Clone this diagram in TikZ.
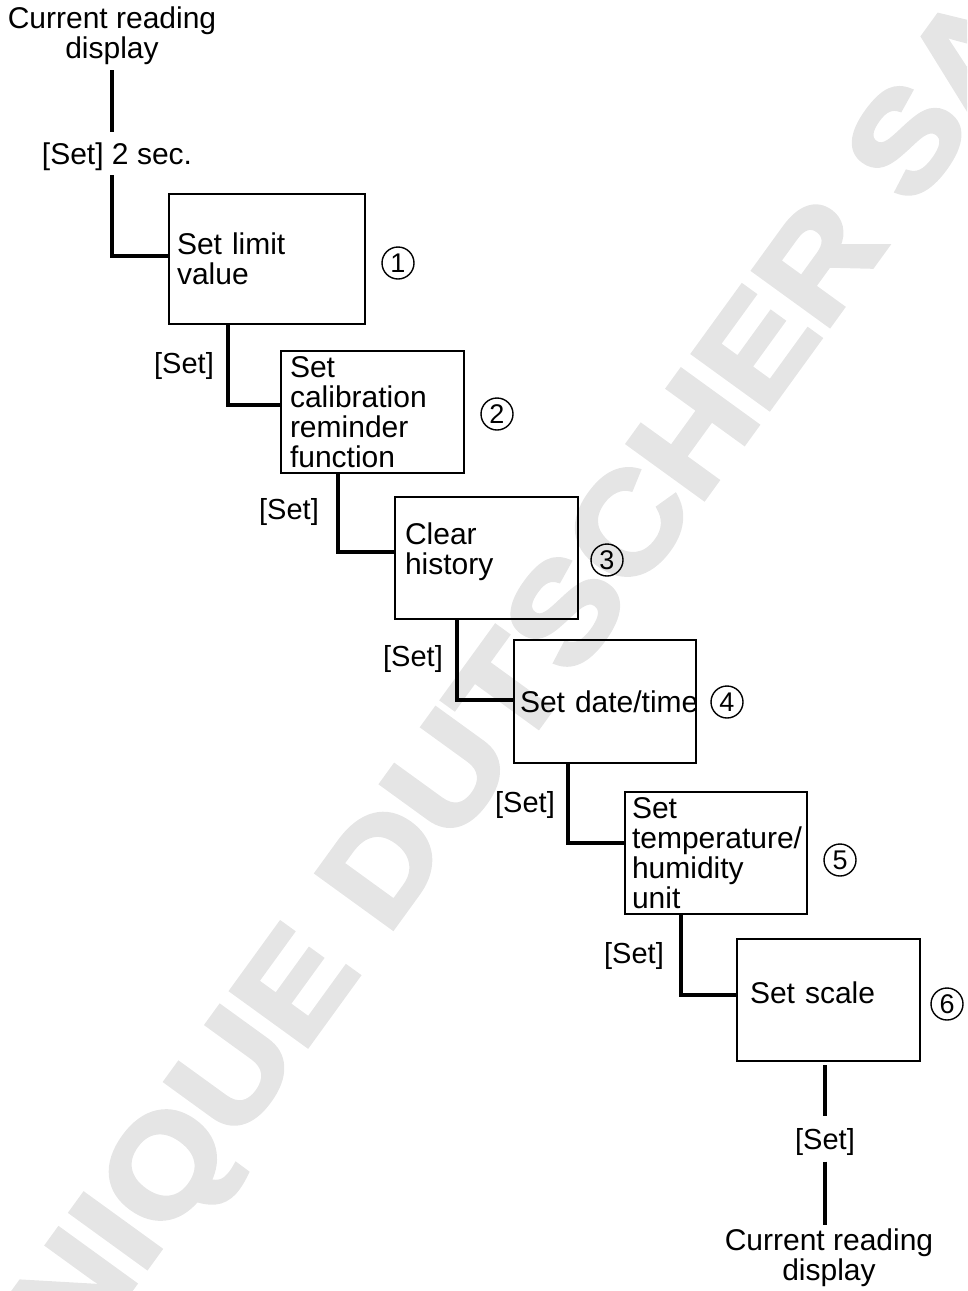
\documentclass[tikz,border=0pt]{standalone}
\usepackage{fontspec}
\setmainfont{Liberation Sans}
\newfontfamily\wmfont[FakeBold=3]{Liberation Sans Bold}
\definecolor{wm}{RGB}{229,229,229}
\begin{document}
\begin{tikzpicture}[x=1pt,y=-1pt,
  txt/.style={font=\fontsize{30}{30}\selectfont, inner sep=0pt, align=center},
  setlbl/.style={font=\fontsize{29}{29}\selectfont, inner sep=0pt},
  box/.style={draw, line width=2pt, align=left, inner ysep=0pt, anchor=north west,
    font=\fontsize{30}{30}\selectfont},
  conn/.style={line width=4pt},
  num/.style={draw, circle, line width=1.4pt, minimum size=32pt, inner sep=0pt,
    font=\fontsize{27}{27}\selectfont},
  watermark/.style={font=\fontsize{137}{137}\wmfont, text=wm, inner sep=0pt,
    rotate=54.07, xscale=1.124, anchor=base}]
\useasboundingbox (0,0) rectangle (967,1291);
\begin{scope}
\clip (0,0) rectangle (967,1291);
\node[watermark] (wmk) at (470,822) {DOMINIQUE DUTSCHER SAS};
\end{scope}

% boxes
\node[box, inner xsep=8pt, text width=180pt, minimum height=130pt] (b1) at (168,193) {Set limit\\value};
\node[box, inner xsep=9pt, text width=165pt, minimum height=122pt] (b2) at (280,350) {Set\\calibration\\reminder\\function};
\node[box, inner xsep=10pt, text width=163pt, minimum height=122pt] (b3) at (394,496) {\raisebox{6pt}[\height][\depth]{Clear}\\\raisebox{6pt}[\height][\depth]{history}};
\node[box, inner xsep=6pt, text width=170pt, minimum height=123pt] (b4) at (513,639) {\mbox{Set date/time}};
\node[box, inner xsep=7pt, text width=168pt, minimum height=122pt] (b5) at (624,791) {Set\\temperature/\\humidity\\unit};
\node[box, inner xsep=13pt, text width=157pt, minimum height=122pt] (b6) at (736,938) {\raisebox{7pt}[\height][\depth]{Set scale}};

% numbers
\node[num] (n1) at (398,263) {1};
\node[num] (n2) at (497,414) {2};
\node[num] (n3) at (607,560) {3};
\node[num] (n4) at (727,702) {4};
\node[num] (n5) at (840,860) {5};
\node[num] (n6) at (947,1004) {6};

% top / bottom texts
\node[txt, anchor=north] (ct) at (112,7) {Current reading\\display};
\node[txt] (s0) at (117,157) {[Set] 2 sec.};
\node[txt, anchor=north] (cb) at (829,1229) {Current reading\\display};

% [Set] labels
\node[setlbl] (l1) at (184,366) {[Set]};
\node[setlbl] (l2) at (289,512) {[Set]};
\node[setlbl] (l3) at (413,659) {[Set]};
\node[setlbl] (l4) at (525,805) {[Set]};
\node[setlbl] (l5) at (634,956) {[Set]};
\node[setlbl] (l6) at (825,1142) {[Set]};

% connectors
\draw[conn] ([yshift=-5pt]ct.south) -- ([yshift=11pt]ct.south |- s0.north);
\draw[conn] ([yshift=-4pt]ct.south |- s0.south) |- ([yshift=3pt]b1.west);
\draw[conn] ([xshift=60pt]b1.south west) |- ([yshift=7pt]b2.west);
\draw[conn] ([xshift=58pt]b2.south west) |- ([yshift=6pt]b3.west);
\draw[conn] ([xshift=63pt]b3.south west) |- ([yshift=1.5pt]b4.west);
\draw[conn] ([xshift=55pt]b4.south west) |- ([yshift=10pt]b5.west);
\draw[conn] ([xshift=57pt]b5.south west) |- ([yshift=5pt]b6.west);
\draw[conn] ([xshift=89pt,yshift=-3pt]b6.south west) -- ([yshift=12pt]l6.north);
\draw[conn] ([yshift=-6pt]l6.south) -- ([yshift=4pt]l6.south |- cb.north);
\end{tikzpicture}
\end{document}
